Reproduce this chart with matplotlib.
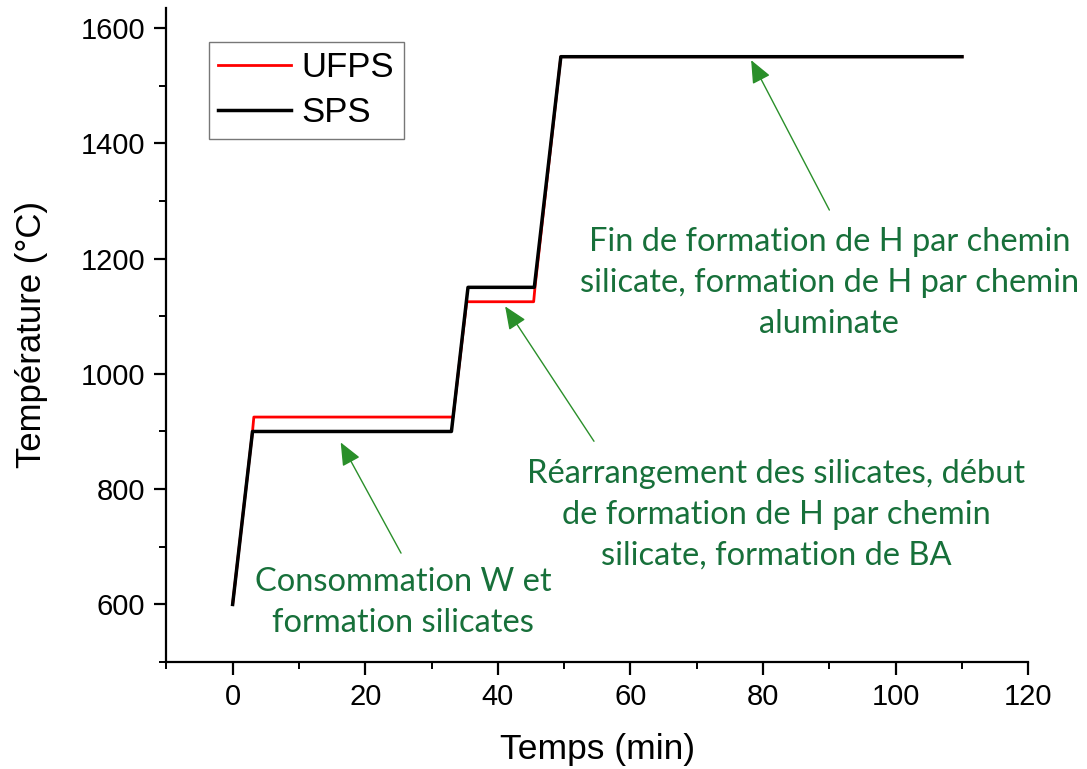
import matplotlib
matplotlib.use("Agg")
import matplotlib.pyplot as plt
from matplotlib.ticker import MultipleLocator

# Heating cycles (time in min, temperature in °C)
sps_time = [0, 3, 33, 35.5, 45.5, 49.5, 110]
sps_temp = [600, 900, 900, 1150, 1150, 1550, 1550]

ufps_time = [0, 3, 3.2, 33.25, 35.3, 45.4, 45.6, 49.5, 110]
ufps_temp = [600, 900, 925, 925, 1125, 1125, 1150, 1550, 1550]

x_ticks = [0, 20, 40, 60, 80, 100, 120]
y_ticks = [600, 800, 1000, 1200, 1400, 1600]

notes = [
    "Consommation W et\nformation silicates",
    "Réarrangement des silicates, début\nde formation de H par chemin\nsilicate, formation de BA",
    "Fin de formation de H par chemin\nsilicate, formation de H par chemin\naluminate",
]
note_text_xy = [(25.7, 603), (82.0, 756), (90.0, 1157)]
note_tail_xy = [(25.4, 689), (54.5, 883), (90.0, 1284)]
note_head_xy = [(16.3, 881), (41.1, 1117), (78.2, 1544)]

fig = plt.figure(figsize=(10.87, 7.69), dpi=100)
ax = fig.add_axes([0.153, 0.139, 0.793, 0.851])

ax.plot(ufps_time, ufps_temp, color="#ff0000", lw=2.0, label="UFPS", zorder=2)
ax.plot(sps_time, sps_temp, color="#000000", lw=2.5, label="SPS", zorder=3)

ax.set_xlim(-10, 120)
ax.set_ylim(500, 1635)
ax.set_xticks(x_ticks)
ax.set_yticks(y_ticks)
ax.xaxis.set_minor_locator(MultipleLocator(10))
ax.yaxis.set_minor_locator(MultipleLocator(100))

tick_font = ["Liberation Sans", "DejaVu Sans"]
for s in ("top", "right"):
    ax.spines[s].set_visible(False)
for s in ("left", "bottom"):
    ax.spines[s].set_linewidth(1.6)
ax.tick_params(which="major", direction="out", length=9, width=1.6, labelsize=21, pad=6)
ax.tick_params(which="minor", direction="out", length=5, width=1.4)
for lab in ax.get_xticklabels() + ax.get_yticklabels():
    lab.set_family(tick_font)

ax.set_xlabel("Temps (min)", fontsize=25.5, family=tick_font, labelpad=16)
ax.set_ylabel("Température (°C)", fontsize=25, family=tick_font, labelpad=24)

leg = ax.legend(loc="upper left", bbox_to_anchor=(0.049, 0.948),
                frameon=True, fancybox=False, edgecolor="#555555",
                handlelength=2.1, handletextpad=0.3, borderpad=0.28,
                labelspacing=0.33, borderaxespad=0,
                prop={"family": tick_font, "size": 25})
leg.get_frame().set_linewidth(1.0)

for txt, txy, tail, head in zip(notes, note_text_xy, note_tail_xy, note_head_xy):
    ax.annotate("", xy=head, xytext=tail,
                arrowprops=dict(arrowstyle="-|>,head_length=0.7,head_width=0.3",
                                color="#2a8f2a", lw=1.0, mutation_scale=20,
                                shrinkA=0, shrinkB=0))
    ax.text(txy[0], txy[1], txt, ha="center", va="center", multialignment="center",
            fontsize=23.5, color="#17703a", family=["Lato", "DejaVu Sans"],
            linespacing=1.45)

fig.savefig("out.png", dpi=100)
